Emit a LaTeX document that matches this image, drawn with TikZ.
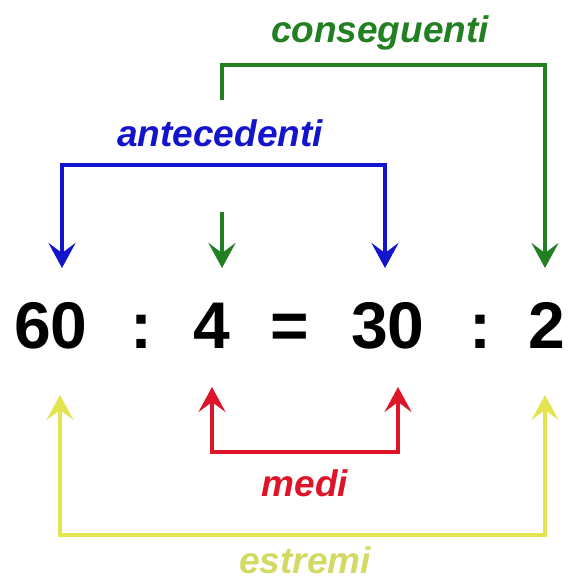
\documentclass[tikz,border=0pt]{standalone}
\usepackage{fontspec}
\setmainfont{Liberation Sans}
\usetikzlibrary{arrows.meta}
\definecolor{consgreen}{RGB}{34, 128, 34}
\definecolor{antblue}{RGB}{20, 20, 205}
\definecolor{medired}{RGB}{222, 20, 40}
\definecolor{estryellow}{RGB}{228, 228, 80}
\definecolor{estrtext}{RGB}{210, 218, 100}

\begin{document}
\begin{tikzpicture}[x=1pt, y=-1pt, >={Stealth[length=25pt, width=27pt, inset=10pt]},
    num/.style={font=\fontsize{66}{66}\selectfont\bfseries, anchor=base, inner sep=0pt},
    lab/.style={font=\fontsize{37}{37}\selectfont\bfseries\itshape, inner sep=0pt},
    conn/.style={line width=4pt}]
    \useasboundingbox (0, 0) rectangle (568, 581);
    % proportion
    \node[num] (n60) at (51, 348) {60};
    \node[num] (c1) at (141, 348) {:};
    \node[num] (n4) at (212, 348) {4};
    \node[num] (eq) at (290, 348) {=};
    \node[num] (n30) at (388, 348) {30};
    \node[num] (c2) at (480, 348) {:};
    \node[num] (n2) at (547, 348) {2};
    % labels
    \node[lab, consgreen] (cons) at (380, 33) {conseguenti};
    \node[lab, antblue] (ante) at (220, 133) {antecedenti};
    \node[lab, medired] (medi) at (305, 483) {medi};
    \node[lab, estrtext] (estr) at (305, 560) {estremi};
    % corners and ends
    \coordinate (gA) at (222, 100);
    \coordinate (gB) at (222, 65);
    \coordinate (gC) at (545, 65);
    \coordinate (gD) at (545, 268);
    \coordinate (gE) at (222, 212);
    \coordinate (gF) at (222, 268);
    \coordinate (bA) at (62, 268);
    \coordinate (bB) at (62, 165);
    \coordinate (bC) at (385, 165);
    \coordinate (bD) at (385, 268);
    \coordinate (rA) at (212, 387);
    \coordinate (rB) at (212, 452);
    \coordinate (rC) at (398, 452);
    \coordinate (rD) at (398, 387);
    \coordinate (yA) at (60, 395);
    \coordinate (yB) at (60, 535);
    \coordinate (yC) at (545, 535);
    \coordinate (yD) at (545, 395);
    % connectors
    \draw[conn, consgreen, ->] (gA) -- (gB) -- (gC) -- (gD);
    \draw[conn, consgreen, ->] (gE) -- (gF);
    \draw[conn, antblue, <->] (bA) -- (bB) -- (bC) -- (bD);
    \draw[conn, medired, <->] (rA) -- (rB) -- (rC) -- (rD);
    \draw[conn, estryellow, <->] (yA) -- (yB) -- (yC) -- (yD);
  \end{tikzpicture}
\end{document}
